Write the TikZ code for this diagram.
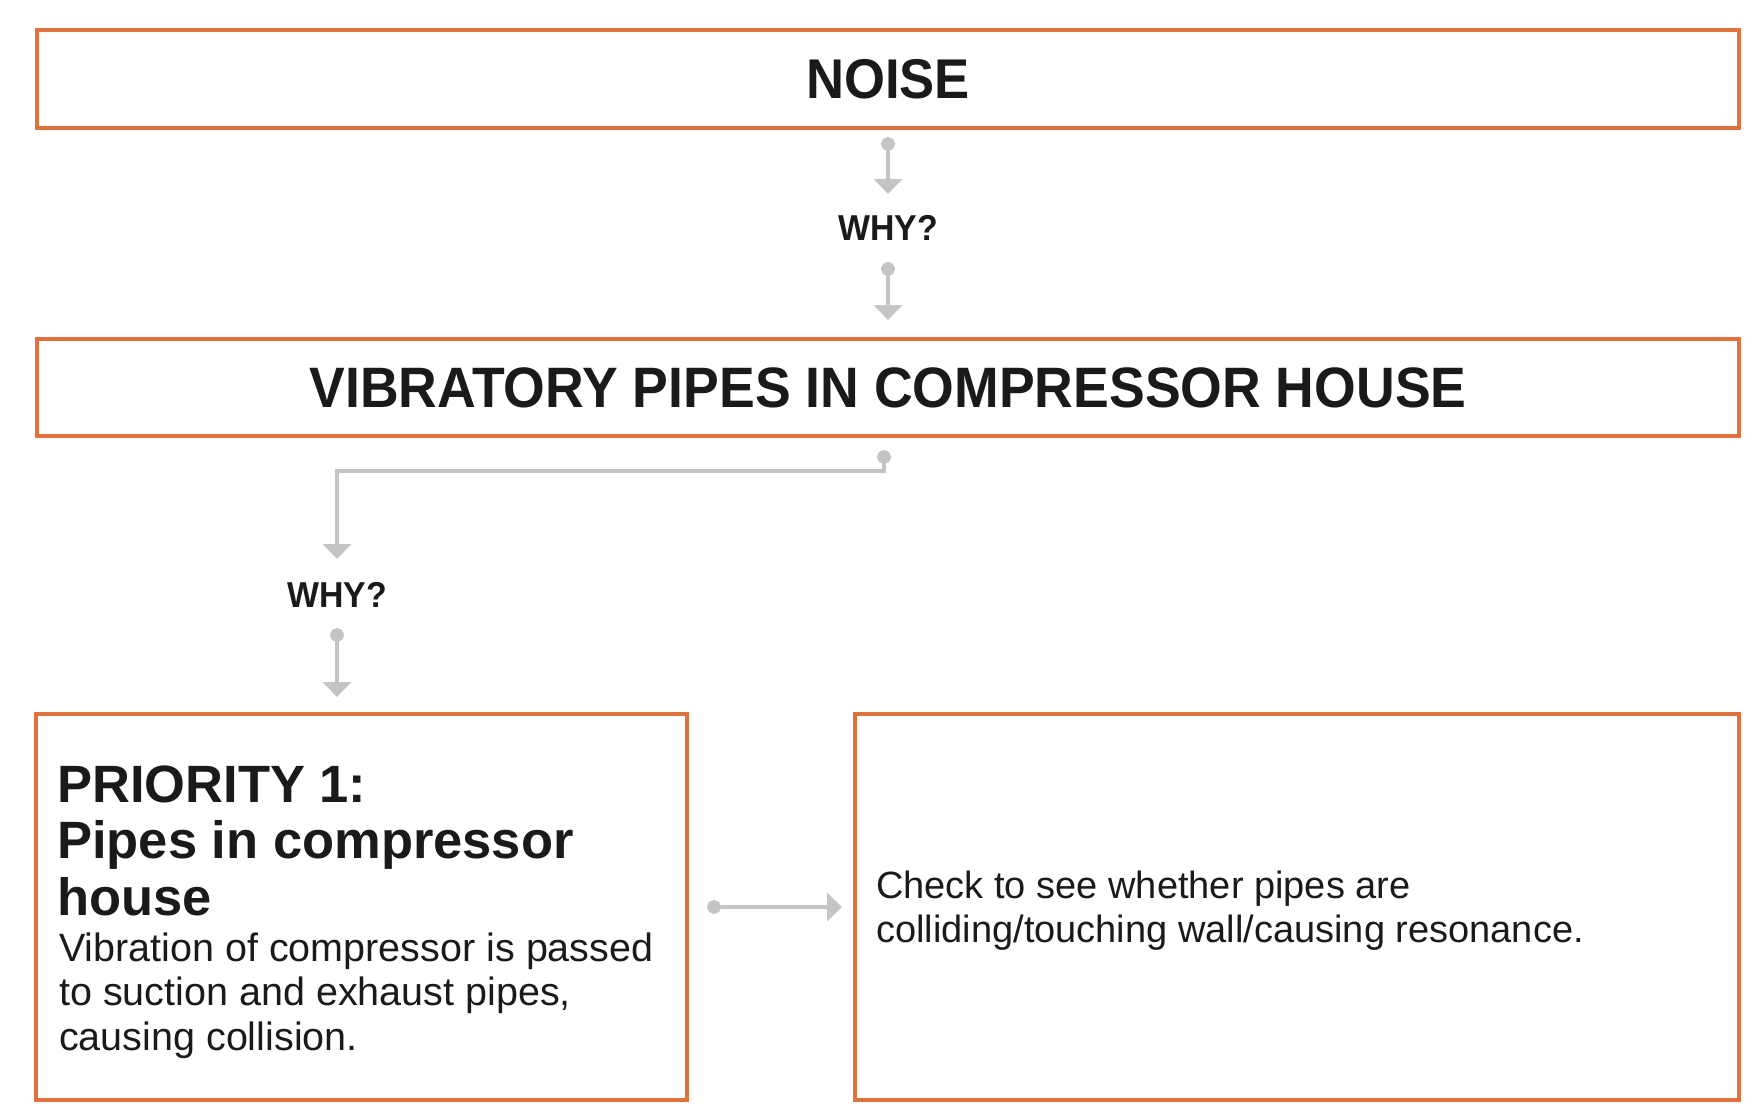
\documentclass[tikz,border=0pt]{standalone}
\usepackage{fontspec}
\setmainfont{Liberation Sans}
\newfontfamily\hbold[FakeStretch=0.94]{Liberation Sans}
\newfontfamily\hplain{Liberation Sans}
\usetikzlibrary{arrows.meta}
\definecolor{boxorange}{HTML}{E0703C}
\definecolor{conngray}{HTML}{C4C4C4}
\definecolor{inkblack}{HTML}{1A1A1A}
\tikzset{
  framebox/.style={draw=boxorange, line width=4pt},
  conn/.style={draw=conngray, line width=4pt,
    {Circle[length=14pt,width=14pt]}-{Triangle[width=28pt,length=15pt]}},
  whylabel/.style={text=inkblack, inner sep=0pt, font=\hbold\bfseries\fontsize{36}{40}\selectfont},
  titletext/.style={text=inkblack, inner sep=0pt, font=\hbold\bfseries\fontsize{56}{64}\selectfont},
  priotext/.style={text=inkblack, inner sep=0pt, anchor=base west, font=\hplain\bfseries\fontsize{52.5}{60}\selectfont},
  bodytext/.style={text=inkblack, inner sep=0pt, anchor=base west, font=\hplain\fontsize{39.5}{45}\selectfont},
  checktext/.style={text=inkblack, inner sep=0pt, anchor=base west, font=\hplain\fontsize{38}{44}\selectfont},
}
\begin{document}
\begin{tikzpicture}[x=1pt,y=-1pt]
\useasboundingbox (0,0) rectangle (1760,1114);
% boxes
\draw[framebox] (37,30) rectangle (1739,128);
\node[titletext] (noise) at (888,79) {NOISE};
\draw[framebox] (37,339) rectangle (1739,436);
\node[titletext, font=\hbold\bfseries\fontsize{57}{64}\selectfont] (vib) at (888,388) {VIBRATORY PIPES IN COMPRESSOR HOUSE};
\draw[framebox] (36,714) rectangle (687,1100);
\draw[framebox] (855,714) rectangle (1739,1100);
% texts in lower boxes
\node[priotext] (prio1) at (57,802) {PRIORITY 1:};
\node[priotext] (prio2) at (57,858) {Pipes in compressor};
\node[priotext] (prio3) at (57,915) {house};
\node[bodytext] (body1) at (59,961) {Vibration of compressor is passed};
\node[bodytext] (body2) at (59,1005) {to suction and exhaust pipes,};
\node[bodytext] (body3) at (59,1050) {causing collision.};
\node[checktext] (check1) at (876,898) {Check to see whether pipes are};
\node[checktext] (check2) at (876,942) {colliding/touching wall/causing resonance.};
% why labels
\node[whylabel] (why1) at (888,228) {WHY?};
\node[whylabel] (why2) at (337,595) {WHY?};
% connector coordinates
\coordinate (c1s) at (888,137);
\coordinate (c1e) at (888,194);
\coordinate (c2s) at (888,262);
\coordinate (c2e) at (888,320);
\coordinate (c3s) at (884,450);
\coordinate (c3m) at (884,471);
\coordinate (c3n) at (337,471);
\coordinate (c3e) at (337,559);
\coordinate (c4s) at (337,628);
\coordinate (c4e) at (337,697);
\coordinate (c5s) at (707,907);
\coordinate (c5e) at (842,907);
\draw[conn] (c1s) -- (c1e);
\draw[conn] (c2s) -- (c2e);
\draw[conn] (c3s) -- (c3m) -- (c3n) -- (c3e);
\draw[conn] (c4s) -- (c4e);
\draw[conn] (c5s) -- (c5e);
\end{tikzpicture}
\end{document}
